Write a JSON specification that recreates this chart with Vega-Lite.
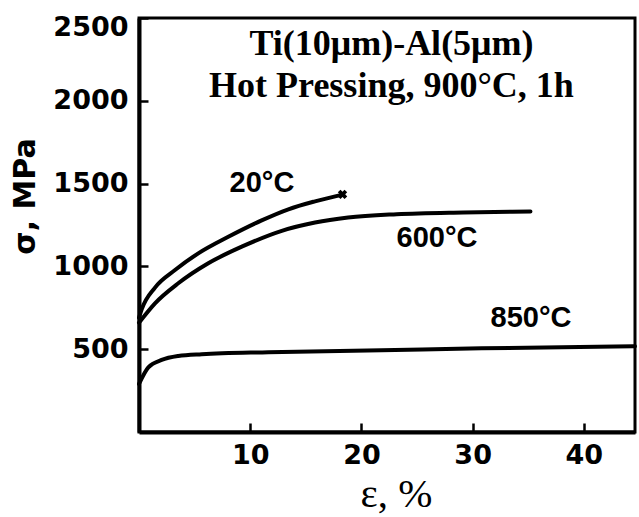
{
  "$schema": "https://vega.github.io/schema/vega-lite/v6.json",
  "autosize": {"type": "none"},
  "padding": {"left": 139, "top": 18, "right": 4, "bottom": 85},
  "width": 496,
  "height": 414,
  "background": "white",
  "config": {
    "view": {"stroke": "black", "strokeWidth": 3},
    "axis": {
      "grid": false,
      "domainColor": "black",
      "domainWidth": 4,
      "labelColor": "black",
      "labelFont": "DejaVu Sans",
      "labelFontWeight": "bold",
      "labelFontSize": 27,
      "titleColor": "black"
    }
  },
  "datasets": {
    "curves": [
      {"series": "20°C", "strain": 0.0, "stress": 690},
      {"series": "20°C", "strain": 0.24, "stress": 740},
      {"series": "20°C", "strain": 1.44, "stress": 872},
      {"series": "20°C", "strain": 3.24, "stress": 978},
      {"series": "20°C", "strain": 5.33, "stress": 1079},
      {"series": "20°C", "strain": 8.03, "stress": 1179},
      {"series": "20°C", "strain": 11.03, "stress": 1278},
      {"series": "20°C", "strain": 13.43, "stress": 1345},
      {"series": "20°C", "strain": 15.83, "stress": 1393},
      {"series": "20°C", "strain": 18.2, "stress": 1432},
      {"series": "600°C", "strain": 0.0, "stress": 660},
      {"series": "600°C", "strain": 1.44, "stress": 777},
      {"series": "600°C", "strain": 3.53, "stress": 898},
      {"series": "600°C", "strain": 6.23, "stress": 1019},
      {"series": "600°C", "strain": 9.24, "stress": 1119},
      {"series": "600°C", "strain": 12.84, "stress": 1215},
      {"series": "600°C", "strain": 15.83, "stress": 1265},
      {"series": "600°C", "strain": 18.8, "stress": 1295},
      {"series": "600°C", "strain": 23.17, "stress": 1315},
      {"series": "600°C", "strain": 29.16, "stress": 1326},
      {"series": "600°C", "strain": 35.2, "stress": 1332},
      {"series": "850°C", "strain": 0.0, "stress": 290},
      {"series": "850°C", "strain": 0.84, "stress": 390},
      {"series": "850°C", "strain": 2.04, "stress": 435},
      {"series": "850°C", "strain": 3.53, "stress": 459},
      {"series": "850°C", "strain": 5.64, "stress": 470},
      {"series": "850°C", "strain": 11.63, "stress": 482},
      {"series": "850°C", "strain": 21.8, "stress": 493},
      {"series": "850°C", "strain": 30.8, "stress": 505},
      {"series": "850°C", "strain": 44.6, "stress": 518}
    ],
    "fracture": [
      {"series": "20°C", "strain": 18.3, "stress": 1435}
    ],
    "curveLabels": [
      {"label": "20°C", "strain": 11.06, "stress": 1504},
      {"label": "600°C", "strain": 26.8, "stress": 1171},
      {"label": "850°C", "strain": 35.25, "stress": 688}
    ],
    "heading": [
      {"label": "Ti(10μm)-Al(5μm)", "strain": 22.7, "stress": 2277},
      {"label": "Hot Pressing, 900°C, 1h", "strain": 22.7, "stress": 2023}
    ]
  },
  "layer": [
    {
      "data": {"name": "curves"},
      "mark": {"type": "line", "interpolate": "monotone", "color": "black", "strokeCap": "round"},
      "encoding": {
        "x": {
          "field": "strain", "type": "quantitative",
          "scale": {"domain": [0, 44.6], "nice": false, "zero": false},
          "axis": {
            "values": [10, 20, 30, 40],
            "format": "d",
            "tickSize": -9,
            "tickWidth": 2.5,
            "tickColor": "black",
            "labelPadding": 19,
            "title": "ε, %",
            "titleFont": "Liberation Serif",
            "titleFontSize": 41,
            "titleFontWeight": "normal",
            "titleX": 257,
            "titleY": 62,
            "titleBaseline": "middle",
            "titleAlign": "center"
          }
        },
        "y": {
          "field": "stress", "type": "quantitative",
          "scale": {"domain": [0, 2500], "nice": false},
          "axis": {
            "values": [500, 1000, 1500, 2000, 2500],
            "format": "d",
            "tickSize": -9,
            "tickWidth": 2.5,
            "tickColor": "black",
            "labelPadding": 20,
            "labelFlush": true,
            "labelFlushOffset": 4,
            "title": "σ, MPa",
            "titleFont": "DejaVu Sans",
            "titleFontWeight": "bold",
            "titleFontSize": 30,
            "titleX": -114,
            "titleY": 178,
            "titleAngle": -90,
            "titleBaseline": "middle",
            "titleAlign": "center"
          }
        },
        "detail": {"field": "series", "type": "nominal"},
        "strokeWidth": {
          "field": "series", "type": "nominal",
          "scale": {"domain": ["20°C", "600°C", "850°C"], "range": [4, 4, 3]},
          "legend": null
        }
      }
    },
    {
      "data": {"name": "fracture"},
      "mark": {"type": "point", "shape": "cross", "angle": 45, "filled": true, "color": "black", "size": 90, "opacity": 1},
      "encoding": {
        "x": {"field": "strain", "type": "quantitative"},
        "y": {"field": "stress", "type": "quantitative"}
      }
    },
    {
      "data": {"name": "curveLabels"},
      "mark": {"type": "text", "font": "Liberation Sans", "fontWeight": "bold", "fontSize": 29, "color": "black", "align": "center", "baseline": "middle"},
      "encoding": {
        "x": {"field": "strain", "type": "quantitative"},
        "y": {"field": "stress", "type": "quantitative"},
        "text": {"field": "label", "type": "nominal"}
      }
    },
    {
      "data": {"name": "heading"},
      "mark": {"type": "text", "font": "Liberation Serif", "fontWeight": "bold", "fontSize": 36, "color": "black", "align": "center", "baseline": "alphabetic"},
      "encoding": {
        "x": {"field": "strain", "type": "quantitative"},
        "y": {"field": "stress", "type": "quantitative"},
        "text": {"field": "label", "type": "nominal"}
      }
    }
  ]
}
